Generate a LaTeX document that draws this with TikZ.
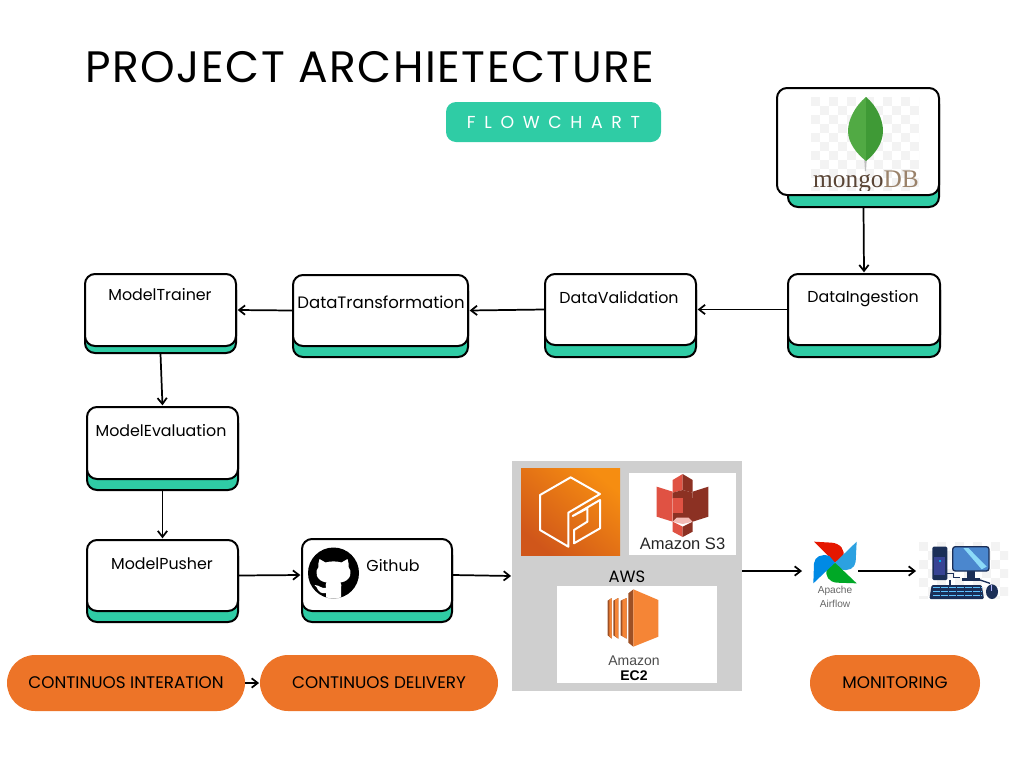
\documentclass[tikz,border=0pt]{standalone}
\usepackage{fontspec}
\setmainfont{Poppins}
\newfontfamily\logosans{Liberation Sans}
\newfontfamily\logoserif{Liberation Serif}
\usetikzlibrary{arrows.meta}

\definecolor{tealbar}{HTML}{2FCCA5}
\definecolor{pillorange}{HTML}{ED7428}
\definecolor{awsgrey}{HTML}{CFCFCF}
\definecolor{checkgrey}{HTML}{F3F3F3}
\definecolor{navypc}{HTML}{1B2F57}
\definecolor{leaflight}{HTML}{51AA44}
\definecolor{leafdark}{HTML}{3F9A36}
\definecolor{sthreelight}{HTML}{E05243}
\definecolor{sthreedark}{HTML}{8C3123}
\definecolor{ectwolight}{HTML}{F58536}
\definecolor{ectwodark}{HTML}{9D5025}
\definecolor{boxdark}{HTML}{D0561A}
\definecolor{boxbright}{HTML}{F68D11}

\tikzset{
  cardtop/.style={draw=black,line width=1.5pt,fill=white,rounded corners=7.5pt,inner sep=0pt},
  cardbase/.style={draw=black,line width=1.5pt,fill=tealbar,rounded corners=7.5pt,inner sep=0pt},
  cardtext/.style={font=\fontsize{11.9}{14}\selectfont,inner sep=0pt},
  pill/.style={fill=pillorange,rounded corners=21pt,inner sep=0pt,minimum height=42pt,font=\fontsize{12.6}{15}\selectfont},
  whitepanel/.style={fill=white,inner sep=0pt},
  flow/.style={-{Straight Barb[length=4.5pt,width=7pt]},line width=1.3pt,shorten >=0.5pt}
}

% card = white box on a teal box, all in reference pixels
\newcommand{\card}[7][0]{
  \pgfmathsetmacro\cw{(#5-#3)*0.75}
  \pgfmathsetmacro\ch{(#6-#4)*0.75}
  \pgfmathsetmacro\cx{0.5*#3+0.5*#5}
  \pgfmathsetmacro\cy{0.5*#4+0.5*#6}
  \pgfmathsetmacro\bw{(#5-#3-#1)*0.75}
  \pgfmathsetmacro\bx{\cx+0.5*#1}
  \pgfmathsetmacro\bh{(#7-#4-6)*0.75}
  \pgfmathsetmacro\by{0.5*#4+0.5*#7+3}
  \node[cardbase,minimum width=\bw pt,minimum height=\bh pt] (#2-base) at (\bx,\by) {};
  \node[cardtop,minimum width=\cw pt,minimum height=\ch pt] (#2) at (\cx,\cy) {};
}

% checkerboard behind the pasted logos
\newcommand{\checker}[5]{
  \begin{scope}
    \clip (#1,#2) rectangle (#3,#4);
    \foreach \i in {0,...,12}
      \foreach \j in {0,...,12}{
        \pgfmathparse{int(mod(\i+\j,2))}
        \ifnum\pgfmathresult=0
          \fill[checkgrey] (#1+\i*#5,#2+\j*#5) rectangle ++(#5,#5);
        \fi
      }
  \end{scope}
}

\begin{document}
\begin{tikzpicture}[x=0.75pt,y=-0.75pt]
\useasboundingbox (0,0) rectangle (1024,768);

% title
\node[anchor=west,inner sep=0pt,font=\fontsize{33}{36}\selectfont\addfontfeature{LetterSpace=3.5}] (title) at (85,67) {PROJECT ARCHIETECTURE};
\node[fill=tealbar,rounded corners=7.5pt,minimum width=161.25pt,minimum height=30pt,inner sep=0pt,text=white,
      font=\fontsize{13}{15}\selectfont\addfontfeature{LetterSpace=50}] (badge) at (553.5,122) {FLOWCHART};

% cards
\card[11]{mongo}{777}{88}{939}{195}{207}
\card{ingest}{788}{274}{940}{345}{357}
\card{valid}{545}{274}{696}{345}{357}
\card{transform}{293}{275}{468}{346}{357}
\card{trainer}{85}{274}{236}{346}{353}
\card{evaluate}{87}{407}{238}{479}{490}
\card{pusher}{87}{540}{238}{611}{622}
\card{github}{302}{539}{452}{611}{622}

\foreach \n/\x/\y/\t in {ingest/863/299/DataIngestion, valid/619/298/DataValidation,
                         transform/381/302/{\fontsize{12.4}{14}\selectfont DataTransformation},
                         trainer/160/295/ModelTrainer, evaluate/161/431/ModelEvaluation,
                         pusher/162/564/ModelPusher, github/393/566/Github}
  \node[cardtext] (\n-label) at (\x,\y) {\t};

% mongodb logo
\checker{811}{97}{919}{190}{9}
\node[inner sep=0pt,minimum width=81pt,minimum height=69.75pt] (mongologo) at (865,143.5) {};
\fill[black!25!white] (864,155) -- (867,155) -- (866,171) -- (865,171) -- cycle;
\fill[leaflight] (866,97) .. controls (855,106) and (848,120) .. (848,131)
  .. controls (848,143) and (857,154) .. (866,161) -- cycle;
\fill[leafdark] (866,97) .. controls (877,106) and (883,120) .. (883,131)
  .. controls (883,143) and (875,154) .. (866,161) -- cycle;
\begin{scope}
  \clip (811,165) rectangle (919,190);
  \node[inner sep=0pt,font=\logoserif\fontsize{19}{21}\selectfont] (mongotext) at (866,182)
    {\textcolor[HTML]{5A4536}{mongo}\textcolor[HTML]{9A826A}{DB}};
\end{scope}

% github logo
\begin{scope}[shift={(333.5,573)}]
  \fill[black] (0,0) circle (25.5);
  \begin{scope}
    \clip (0,0) circle (25.5);
    \fill[white] (-14,-14) -- (-8,-10.5) .. controls (-3,-12) and (3,-12) .. (8,-10.5) -- (14,-14)
      .. controls (15,-11) and (15.5,-8) .. (15,-6) .. controls (19,-2) and (18,8) .. (7,9.5)
      .. controls (8,11) and (8,13) .. (7.5,16) -- (7.5,28) -- (-7.5,28) -- (-7.5,20)
      .. controls (-12,21) and (-15,19) .. (-17,14) -- (-19,12) .. controls (-14,12) and (-12,16) .. (-7.5,15)
      .. controls (-8,12) and (-8,11) .. (-7,9.5) .. controls (-18,8) and (-19,-2) .. (-15,-6)
      .. controls (-15.5,-8) and (-15,-11) .. (-14,-14) -- cycle;
  \end{scope}
\end{scope}
\node[inner sep=0pt,minimum width=39pt,minimum height=39pt] (octocat) at (333.5,573) {};

% aws panel
\node[fill=awsgrey,inner sep=0pt,minimum width=172.5pt,minimum height=172.5pt] (aws) at (627,576) {};
\node[inner sep=0pt,left color=boxbright,right color=boxdark,shading angle=-40,
      minimum width=74.25pt,minimum height=65.25pt] (awsbox) at (570.5,511.5) {};
\node[whitepanel,minimum width=80.25pt,minimum height=61.5pt] (s3) at (682.5,514) {};
\node[whitepanel,minimum width=120pt,minimum height=72.75pt] (ec2) at (637,634.5) {};
\node[inner sep=0pt,font=\fontsize{12.3}{14}\selectfont] (awslabel) at (627,577) {AWS};

\begin{scope}[shift={(500,450)},x=0.25pt,y=-0.25pt]
  % box icon
  \draw[white,line width=1.5pt,line join=round] (300,132) -- (212,82) -- (120,135) -- (120,240) -- (205,290) -- (205,188) -- cycle;
  \draw[white,line width=1.5pt,line join=round] (300,150) -- (300,235) -- (222,280) -- (222,240) -- (262,215) -- (262,175) -- (218,198) -- cycle;
  % s3 bucket
  \fill[sthreelight] (470,110) -- (518,125) -- (518,215) -- (470,200) -- cycle;
  \fill[sthreedark] (578,125) -- (625,110) -- (625,200) -- (578,215) -- cycle;
  \fill[sthreelight] (518,90) -- (548,72) -- (548,120) -- (518,128) -- cycle;
  \fill[sthreedark] (578,90) -- (548,72) -- (548,120) -- (578,128) -- cycle;
  \fill[sthreedark] (518,128) -- (548,120) -- (578,128) -- (578,145) -- (518,145) -- cycle;
  \fill[sthreelight] (518,145) rectangle (548,190);
  \fill[sthreedark] (548,145) rectangle (578,190);
  \fill[sthreedark] (518,190) rectangle (578,215);
  \fill[sthreelight] (518,215) -- (548,230) -- (548,261) -- (518,245) -- cycle;
  \fill[sthreedark] (578,215) -- (548,230) -- (548,261) -- (578,245) -- cycle;
  \fill[sthreelight!40!white] (518,215) -- (530,203) -- (566,203) -- (578,215) -- (548,222) -- cycle;
  % ec2 stack
  \foreach \a/\b in {323/335, 340/355, 362/380}{
    \fill[ectwodark] (\a,452) -- (\b,444) -- (\b,566) -- (\a,556) -- cycle;
    \fill[ectwolight] (\a+5,450) -- (\b,444) -- (\b,566) -- (\a+5,558) -- cycle;
  }
  \fill[ectwodark] (385,430) -- (400,418) -- (400,590) -- (385,578) -- cycle;
  \fill[ectwolight] (400,418) -- (475,450) -- (475,560) -- (400,590) -- cycle;
\end{scope}
\node[inner sep=0pt,font=\logosans\fontsize{12.4}{14}\selectfont,text=black!85] (s3text) at (682.5,544) {Amazon S3};
\node[inner sep=0pt,font=\logosans\fontsize{10.5}{12}\selectfont,text=black!70] (ec2top) at (634,661) {Amazon};
\node[inner sep=0pt,font=\logosans\bfseries\fontsize{10.5}{12}\selectfont] (ec2bottom) at (634,676) {EC2};

% airflow pinwheel
\node[inner sep=0pt,minimum width=41.25pt,minimum height=58.5pt] (airflow) at (830.5,571) {};
\begin{scope}[shift={(790,520)},x=0.25pt,y=-0.25pt]
  \fill[red!80!orange!90!black] (135,128) -- (72,65) -- (125,68) .. controls (150,70) and (168,90) .. (158,112) -- cycle;
  \fill[cyan!80!blue!85!white] (135,128) -- (200,65) -- (197,125) .. controls (195,145) and (175,155) .. (152,148) -- cycle;
  \fill[green!60!black!85!cyan] (135,128) -- (200,190) -- (140,188) .. controls (118,186) and (102,168) .. (112,146) -- cycle;
  \fill[blue!40!cyan!90!black] (135,128) -- (70,190) -- (72,130) .. controls (74,110) and (95,100) .. (118,108) -- cycle;
\end{scope}
\node[inner sep=0pt,align=center,text=black!60,font=\logosans\fontsize{7.6}{10}\selectfont] (airflowtext) at (835,597) {Apache\\Airflow};

% desktop computer
\node[inner sep=0pt,minimum width=68.25pt,minimum height=43.5pt] (desktop) at (962.5,571) {};
\checker{919}{542}{1008}{598}{9}
\begin{scope}[shift={(790,520)},x=0.25pt,y=-0.25pt]
  \fill[navypc,rounded corners=1pt] (427,80) rectangle (472,180);
  \fill[blue!25!navypc!85!white] (433,110) rectangle (466,165);
  \fill[cyan] (447,120) rectangle (452,126);
  \draw[navypc,line width=1pt] (472,160) -- (490,160) -- (490,172) -- (510,172);
  \draw[navypc,line width=1pt] (480,180) -- (480,195);
  \draw[navypc,line width=1pt] (570,180) -- (600,190);
  \fill[navypc] (530,153) rectangle (555,175);
  \fill[navypc] (516,175) rectangle (570,182);
  \draw[navypc,fill=cyan!50!blue!75!white,line width=1pt,rounded corners=2pt] (488,80) rectangle (597,153);
  \fill[cyan!45!white] (520,84) -- (535,84) -- (590,140) -- (575,148) -- cycle;
  \fill[navypc,rounded corners=1pt] (425,195) -- (575,195) -- (582,237) -- (418,237) -- cycle;
  \foreach \ky in {203,215,227}
    \draw[white!60!blue!60!cyan,line width=1.2pt,dash pattern=on 5pt off 1pt] (430,\ky) -- (575,\ky);
  \fill[navypc] (606,215) ellipse (18 and 22);
  \fill[white!70!blue] (604,195) rectangle (607,212);
\end{scope}

% pills
\node[pill,minimum width=178.5pt] (ci) at (126,683) {CONTINUOS INTERATION};
\node[pill,minimum width=178.5pt] (cd) at (379,683) {CONTINUOS DELIVERY};
\node[pill,minimum width=127.5pt] (monitor) at (895,683) {MONITORING};

% connectors
\draw[flow] (mongo-base.south) -- (ingest.north);
\draw[flow] (ingest.west) -- (valid.east);
\draw[flow] (valid.west) -- (transform.east);
\draw[flow] (transform.west) -- (trainer.east);
\draw[flow] (trainer-base.south) -- (evaluate.north);
\draw[flow] (evaluate-base.south) -- (pusher.north);
\draw[flow] (pusher.east) -- (github.west);
\draw[flow] (github.east) -- (aws.west);
\draw[flow] (aws.east |- airflow.west) -- (airflow.west);
\draw[flow] (airflow.east) -- (desktop.west);
\draw[flow] (ci.east) -- (cd.west);

\end{tikzpicture}
\end{document}
